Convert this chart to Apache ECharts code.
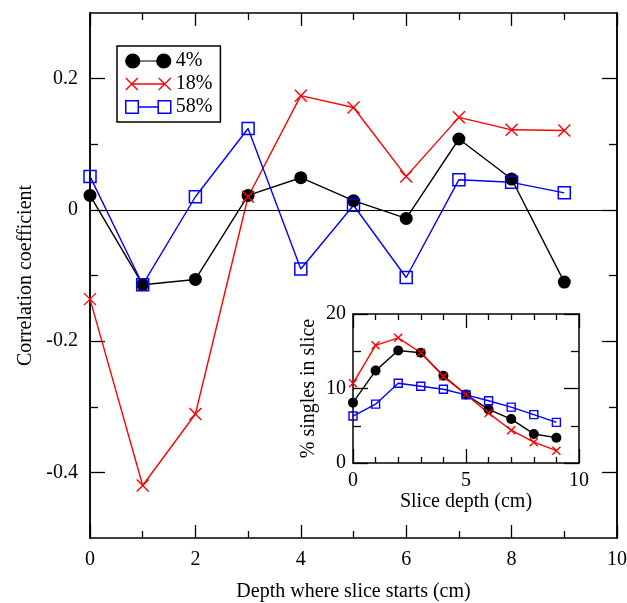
<!DOCTYPE html>
<html>
<head>
<meta charset="utf-8">
<script src="https://cdn.jsdelivr.net/npm/echarts@6/dist/echarts.min.js"></script>
<style>
  html, body { margin: 0; padding: 0; background: #fff; }
  #chart { width: 627px; height: 603px; }
</style>
</head>
<body>
<div id="chart"></div>
<script>
// main plot: correlation vs. slice start depth
const depth = [0, 1, 2, 3, 4, 5, 6, 7, 8, 9]
const corr4 = [0.022, -0.114, -0.106, 0.022, 0.049, 0.014, -0.013, 0.108, 0.047, -0.110]
const corr18 = [-0.136, -0.420, -0.311, 0.020, 0.174, 0.156, 0.051, 0.141, 0.122, 0.121]
const corr58 = [0.051, -0.114, 0.020, 0.124, -0.090, 0.007, -0.103, 0.046, 0.042, 0.026]

// inset: % singles per slice
const sliceDepth = [0, 1, 2, 3, 4, 5, 6, 7, 8, 9]
const singles4 = [8.1, 12.4, 15.1, 14.8, 11.7, 9.2, 7.2, 5.9, 3.9, 3.4]
const singles18 = [10.7, 15.8, 16.8, 14.8, 11.6, 9.2, 6.7, 4.4, 2.8, 1.65]
const singles58 = [6.3, 7.9, 10.7, 10.3, 9.9, 9.15, 8.35, 7.5, 6.5, 5.45]

const names = ['4%', '18%', '58%']
const yMajor = [-0.4, -0.2, 0, 0.2]
const yMinor = [-0.3, -0.1, 0.1]

const FONT = 'Liberation Serif'
const crossPath = 'path://M0,0L10,10M10,0L0,10'

function pairs(xs, ys) {
  return xs.map((x, i) => [x, ys[i]])
}

const txt = { color: '#000', fontFamily: FONT, fontSize: 20 }
const line = { onZero: false, lineStyle: { color: '#000', width: 1.5 } }
const tickStyle = { color: '#000', width: 1.3 }

function yAx(grid, pos, min, max, ticks, len, labels) {
  return {
    type: 'value', gridIndex: grid, position: pos, min: min, max: max,
    axisLine: line,
    axisTick: { show: true, inside: true, length: len, lineStyle: tickStyle, customValues: ticks },
    axisLabel: labels ? Object.assign({ show: true, customValues: ticks, margin: 12 }, txt) : { show: false },
    splitLine: { show: false }
  }
}

// plain value axis with major + minor ticks pointing inward
function ax(grid, pos, min, max, step, len, minorN, minorLen, labels, margin) {
  return {
    type: 'value', gridIndex: grid, position: pos, min: min, max: max, interval: step,
    axisLine: line,
    axisTick: { inside: true, length: len, lineStyle: tickStyle },
    minorTick: { show: true, splitNumber: minorN, length: minorLen, lineStyle: tickStyle },
    axisLabel: labels ? Object.assign({ margin: margin }, txt) : { show: false },
    splitLine: { show: false }, minorSplitLine: { show: false }
  }
}

const option = {
  animation: false,
  backgroundColor: '#fff',
  grid: [
    { left: 90, top: 13, width: 527, height: 525, containLabel: false, outerBoundsMode: 'none' },
    { left: 353, top: 314, width: 226, height: 149, containLabel: false, outerBoundsMode: 'none' }
  ],
  legend: {
    orient: 'vertical', left: 117, top: 46,
    itemWidth: 45, itemHeight: 14, itemGap: 3,
    padding: [5, 8, 5, 8],
    borderColor: '#000', borderWidth: 1.5, backgroundColor: '#fff',
    textStyle: Object.assign({ lineHeight: 19 }, txt),
    data: [
      { name: '4%', icon: 'path://M0,7A7,7 0 1,0 14,7A7,7 0 1,0 0,7ZM7,7L38,7M31,7A7,7 0 1,0 45,7A7,7 0 1,0 31,7Z',
        itemStyle: { color: '#000', borderColor: '#000', borderWidth: 1.2 } },
      { name: '18%', icon: 'path://M0,1L12,13M12,1L0,13M6,7L39,7M33,1L45,13M45,1L33,13',
        itemStyle: { color: '#f00', borderColor: '#f00', borderWidth: 1.3 } },
      { name: '58%', icon: 'path://M1,1L13,1L13,13L1,13ZM13,7L32,7M32,1L44,1L44,13L32,13Z',
        itemStyle: { color: 'transparent', borderColor: '#00f', borderWidth: 1.5 } }
    ]
  },
  xAxis: [
    Object.assign(ax(0, 'bottom', 0, 10, 2, 13, 2, 7, true, 12), {
      name: 'Depth where slice starts (cm)', nameLocation: 'middle', nameGap: 44, nameTextStyle: txt
    }),
    ax(0, 'top', 0, 10, 2, 13, 2, 7, false),
    Object.assign(ax(1, 'bottom', 0, 10, 5, 14, 5, 6, true, 8), {
      name: 'Slice depth (cm)', nameLocation: 'middle', nameGap: 29, nameTextStyle: txt
    }),
    ax(1, 'top', 0, 10, 5, 14, 5, 6, false)
  ],
  yAxis: [
    Object.assign(yAx(0, 'left', -0.5, 0.3, yMajor, 15, true), {
      name: 'Correlation coefficient', nameLocation: 'middle', nameGap: 52, nameTextStyle: txt
    }),
    yAx(0, 'left', -0.5, 0.3, yMinor, 8, false),
    yAx(0, 'right', -0.5, 0.3, yMajor, 15, false),
    yAx(0, 'right', -0.5, 0.3, yMinor, 8, false),
    Object.assign(ax(1, 'left', 0, 20, 10, 15, 2, 8, true, 7), {
      name: '% singles in slice', nameLocation: 'middle', nameGap: 34, nameTextStyle: txt
    }),
    ax(1, 'right', 0, 20, 10, 15, 2, 8, false)
  ],
  series: [
    {
      name: names[0], type: 'line', xAxisIndex: 0, yAxisIndex: 0,
      data: pairs(depth, corr4),
      symbol: 'circle', symbolSize: 13,
      itemStyle: { color: '#000' }, lineStyle: { color: '#000', width: 1.4 },
      markLine: {
        silent: true, symbol: 'none', label: { show: false },
        lineStyle: { color: '#000', width: 1, type: 'solid' },
        data: [{ yAxis: 0 }]
      }
    },
    {
      name: names[1], type: 'line', xAxisIndex: 0, yAxisIndex: 0,
      data: pairs(depth, corr18),
      symbol: crossPath, symbolSize: 12,
      itemStyle: { color: '#f00', borderColor: '#f00', borderWidth: 1.4 },
      lineStyle: { color: '#f00', width: 1.4 }
    },
    {
      name: names[2], type: 'line', xAxisIndex: 0, yAxisIndex: 0,
      data: pairs(depth, corr58),
      symbol: 'rect', symbolSize: 12,
      itemStyle: { color: 'transparent', borderColor: '#00f', borderWidth: 1.5 },
      lineStyle: { color: '#00f', width: 1.4 }
    },
    {
      name: 'inset 4%', type: 'line', xAxisIndex: 2, yAxisIndex: 4,
      data: pairs(sliceDepth, singles4),
      symbol: 'circle', symbolSize: 10,
      itemStyle: { color: '#000' }, lineStyle: { color: '#000', width: 1.4 }
    },
    {
      name: 'inset 18%', type: 'line', xAxisIndex: 2, yAxisIndex: 4,
      data: pairs(sliceDepth, singles18),
      symbol: crossPath, symbolSize: 8,
      itemStyle: { color: '#f00', borderColor: '#f00', borderWidth: 1.4 },
      lineStyle: { color: '#f00', width: 1.4 }
    },
    {
      name: 'inset 58%', type: 'line', xAxisIndex: 2, yAxisIndex: 4,
      data: pairs(sliceDepth, singles58),
      symbol: 'rect', symbolSize: 8,
      itemStyle: { color: 'transparent', borderColor: '#00f', borderWidth: 1.4 },
      lineStyle: { color: '#00f', width: 1.4 }
    }
  ]
}

const chart = echarts.init(document.getElementById('chart'), null, { renderer: 'canvas' })
chart.setOption(option)
</script>
</body>
</html>
